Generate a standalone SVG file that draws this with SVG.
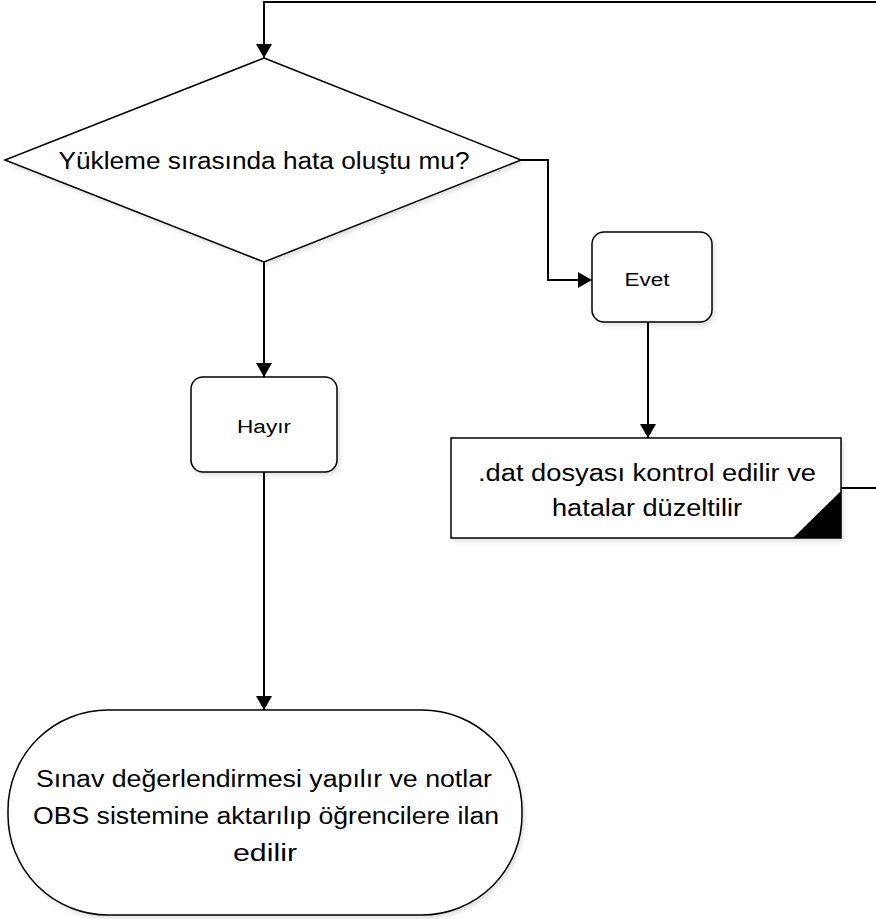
<svg xmlns="http://www.w3.org/2000/svg" width="876" height="919" viewBox="0 0 876 919">
<defs>
<marker id="arr" markerWidth="14" markerHeight="16" refX="14" refY="8" orient="auto" markerUnits="userSpaceOnUse">
<path d="M0,0 L14,8 L0,16 Z" fill="#000"/>
</marker>
<filter id="sh" x="-10%" y="-10%" width="125%" height="125%">
<feGaussianBlur in="SourceAlpha" stdDeviation="2"/>
<feOffset dx="2" dy="3"/>
<feComponentTransfer><feFuncA type="linear" slope="0.12"/></feComponentTransfer>
<feMerge><feMergeNode/><feMergeNode in="SourceGraphic"/></feMerge>
</filter>
</defs>
<style>
.shape{fill:#fff;stroke:#000;stroke-width:1.5}
.conn{fill:none;stroke:#000;stroke-width:2}
text{font-family:"Liberation Sans",Arial,sans-serif;fill:#000;text-anchor:middle}
.big{font-size:23px}
.small{font-size:18px}
</style>
<rect width="876" height="919" fill="#fff"/>
<g id="connectors">
<path class="conn" d="M841,488 H890 V2 H264 V58" marker-end="url(#arr)"/>
<path class="conn" d="M521,160 H548 V280 H592" marker-end="url(#arr)"/>
<path class="conn" d="M648,322 V438" marker-end="url(#arr)"/>
<path class="conn" d="M264,262 V377" marker-end="url(#arr)"/>
<path class="conn" d="M264,472 V710" marker-end="url(#arr)"/>
</g>
<g id="decision">
<polygon class="shape" filter="url(#sh)" points="264,58 521,160 264,262 5,160"/>
<text class="big" x="264" y="169" textLength="411" lengthAdjust="spacingAndGlyphs">Yükleme sırasında hata oluştu mu?</text>
</g>
<g id="evet">
<rect class="shape" filter="url(#sh)" x="592" y="232" width="120" height="90" rx="12"/>
<text class="small" x="647" y="286" textLength="45" lengthAdjust="spacingAndGlyphs">Evet</text>
</g>
<g id="dat">
<rect class="shape" filter="url(#sh)" x="451" y="438" width="390" height="100"/>
<polygon points="841,491 841,538 793,538" fill="#000"/>
<text class="big" x="647" y="481" textLength="338" lengthAdjust="spacingAndGlyphs">.dat dosyası kontrol edilir ve</text>
<text class="big" x="647" y="516" textLength="190" lengthAdjust="spacingAndGlyphs">hatalar düzeltilir</text>
</g>
<g id="hayir">
<rect class="shape" filter="url(#sh)" x="191" y="377" width="146" height="95" rx="12"/>
<text class="small" x="264" y="433" textLength="54" lengthAdjust="spacingAndGlyphs">Hayır</text>
</g>
<g id="terminal">
<rect class="shape" filter="url(#sh)" x="8" y="710" width="514" height="205" rx="100" ry="100"/>
<text class="big" x="264" y="787" textLength="456" lengthAdjust="spacingAndGlyphs">Sınav değerlendirmesi yapılır ve notlar</text>
<text class="big" x="266" y="824" textLength="466" lengthAdjust="spacingAndGlyphs">OBS sistemine aktarılıp öğrencilere ilan</text>
<text class="big" x="265" y="861" textLength="64" lengthAdjust="spacingAndGlyphs">edilir</text>
</g>
</svg>
